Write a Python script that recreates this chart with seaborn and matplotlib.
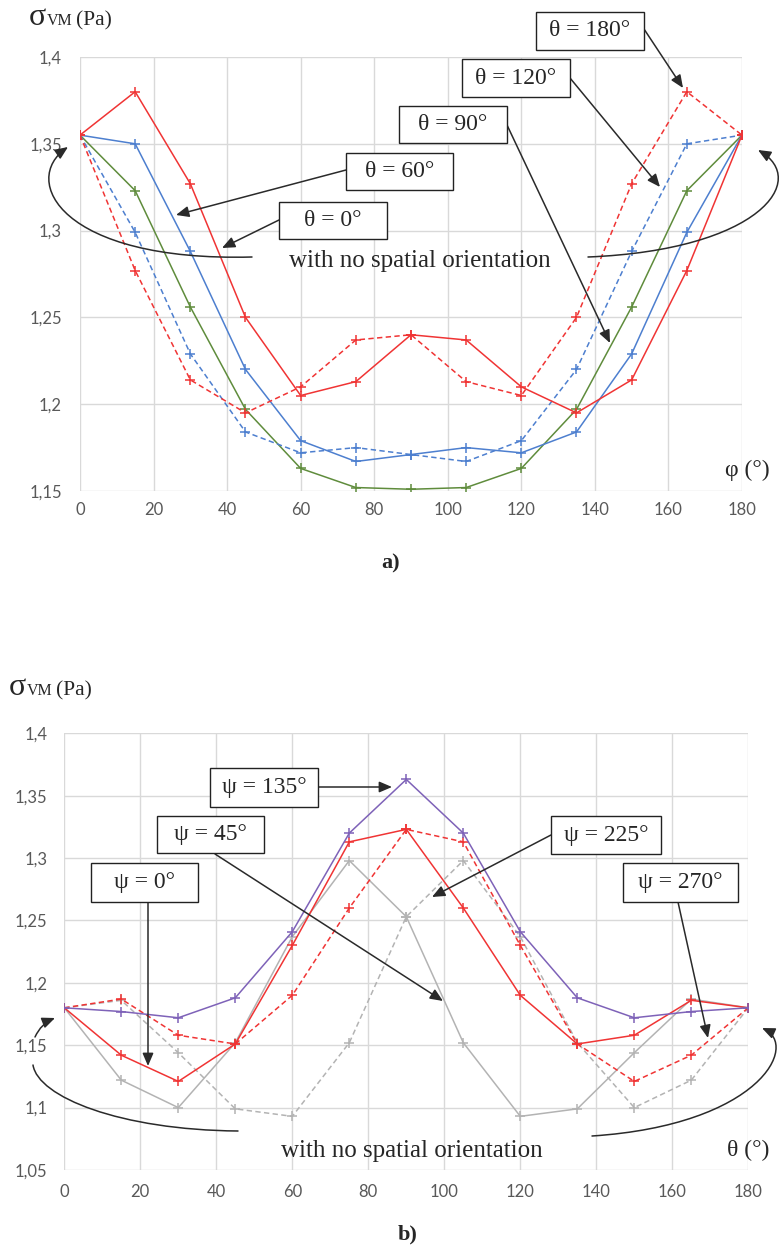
import numpy as np
import pandas as pd
import seaborn as sns
import matplotlib.pyplot as plt
from matplotlib.patches import Rectangle, FancyArrowPatch
from matplotlib.path import Path
from matplotlib.ticker import FuncFormatter

W, H = 779, 1250

# a) sigma_VM (Pa) vs phi, one curve per theta
phi = [0, 15, 30, 45, 60, 75, 90, 105, 120, 135, 150, 165, 180]
theta_0 = [1.355, 1.380, 1.327, 1.250, 1.205, 1.213, 1.240, 1.237, 1.210, 1.195, 1.214, 1.277, 1.355]
theta_180 = [1.355, 1.277, 1.214, 1.195, 1.210, 1.237, 1.240, 1.213, 1.205, 1.250, 1.327, 1.380, 1.355]
theta_60 = [1.355, 1.350, 1.288, 1.220, 1.179, 1.167, 1.171, 1.175, 1.172, 1.184, 1.229, 1.299, 1.355]
theta_120 = [1.355, 1.299, 1.229, 1.184, 1.172, 1.175, 1.171, 1.167, 1.179, 1.220, 1.288, 1.350, 1.355]
theta_90 = [1.355, 1.323, 1.256, 1.197, 1.163, 1.152, 1.151, 1.152, 1.163, 1.197, 1.256, 1.323, 1.355]

# b) sigma_VM (Pa) vs theta, one curve per psi
theta = [0, 15, 30, 45, 60, 75, 90, 105, 120, 135, 150, 165, 180]
psi_0 = [1.180, 1.142, 1.121, 1.151, 1.230, 1.313, 1.323, 1.260, 1.190, 1.151, 1.158, 1.186, 1.180]
psi_270 = [1.180, 1.187, 1.158, 1.151, 1.190, 1.260, 1.323, 1.313, 1.230, 1.151, 1.121, 1.142, 1.180]
psi_135 = [1.180, 1.177, 1.172, 1.188, 1.241, 1.320, 1.363, 1.320, 1.241, 1.188, 1.172, 1.177, 1.180]
psi_45 = [1.180, 1.122, 1.100, 1.152, 1.237, 1.298, 1.253, 1.152, 1.093, 1.099, 1.144, 1.187, 1.180]
psi_225 = [1.180, 1.186, 1.144, 1.099, 1.093, 1.152, 1.253, 1.298, 1.237, 1.152, 1.100, 1.122, 1.180]

ROUGE = "#f03434"
BLEU = "#4d7fcf"
VERT = "#5f8c3c"
MOV = "#7e62b8"
GRI = "#b3b3b3"
SOLID = "-"
DASH = (0, (3.5, 2.2))

serii_a = [(theta_90, VERT, SOLID), (theta_120, BLEU, DASH), (theta_60, BLEU, SOLID),
           (theta_180, ROUGE, DASH), (theta_0, ROUGE, SOLID)]
serii_b = [(psi_225, GRI, DASH), (psi_45, GRI, SOLID), (psi_270, ROUGE, DASH),
           (psi_0, ROUGE, SOLID), (psi_135, MOV, SOLID)]

sns.set_style("whitegrid")
plt.rcParams['font.family'] = ['Liberation Serif', 'DejaVu Serif']
SERIF = ['Liberation Serif', 'DejaVu Serif']
TICKF = ['Lato', 'DejaVu Sans']


def fx(x):
    return x / W


def fy(y):
    return 1 - y / H


fig = plt.figure(figsize=(W / 100, H / 100), dpi=100)
fig.patch.set_facecolor("white")


def pregateste_axa(ax, x, serii, ylim, yticks, pad_y, pad_x):
    for vals, c, ls in serii:
        sns.lineplot(x=x, y=vals, ax=ax, color=c, linestyle=ls, linewidth=1.1,
                     marker='+', markersize=7, markeredgewidth=1.1, markeredgecolor=c,
                     legend=False)
    ax.set_xlim(0, 180)
    ax.set_ylim(*ylim)
    ax.set_xticks(np.arange(0, 181, 20))
    ax.set_yticks(yticks)
    ax.yaxis.set_major_formatter(FuncFormatter(lambda v, p: f"{v:g}".replace('.', ',')))
    ax.grid(True, color="#d9d9d9", linewidth=1.0)
    for s in ax.spines.values():
        s.set_visible(False)
    ax.tick_params(axis='y', length=0, pad=pad_y, labelsize=12, labelcolor="#595959")
    ax.tick_params(axis='x', length=0, pad=pad_x, labelsize=12, labelcolor="#595959")
    for lab in ax.get_xticklabels() + ax.get_yticklabels():
        lab.set_family(TICKF)
    ax.set_xlabel("")
    ax.set_ylabel("")
    ax.set_facecolor("white")


ax1 = fig.add_axes([fx(80), fy(491), (742 - 80) / W, (491 - 57) / H])
pregateste_axa(ax1, phi, serii_a, (1.15, 1.4), np.arange(1.15, 1.401, 0.05), 13, 8)

ax2 = fig.add_axes([fx(64.3), fy(1170), (748.3 - 64.3) / W, (1170 - 733.3) / H])
pregateste_axa(ax2, theta, serii_b, (1.05, 1.4), np.arange(1.05, 1.401, 0.05), 12, 10)

ARROW = "#2a2a2a"


def caseta(x0, y0, x1, y1, text):
    fig.add_artist(Rectangle((fx(x0), fy(y1)), (x1 - x0) / W, (y1 - y0) / H,
                             transform=fig.transFigure, facecolor="white",
                             edgecolor="#222222", linewidth=1.0, zorder=4))
    fig.text(fx((x0 + x1) / 2), fy((y0 + y1) / 2), text, ha='center', va='center',
             fontsize=17, family=SERIF, zorder=5)


def sageata(p0, p1):
    fig.add_artist(FancyArrowPatch((fx(p0[0]), fy(p0[1])), (fx(p1[0]), fy(p1[1])),
                                   transform=fig.transFigure, arrowstyle='-|>,head_length=0.7,head_width=0.3',
                                   mutation_scale=11, color=ARROW, linewidth=1.1,
                                   shrinkA=0, shrinkB=0, zorder=3))


def curba(pts, arrow=True):
    verts = [(fx(x), fy(y)) for x, y in pts]
    codes = [Path.MOVETO, Path.CURVE4, Path.CURVE4, Path.CURVE4]
    style = '-|>,head_length=0.7,head_width=0.3' if arrow else '-'
    fig.add_artist(FancyArrowPatch(path=Path(verts, codes), transform=fig.transFigure,
                                   arrowstyle=style, mutation_scale=11, color=ARROW,
                                   linewidth=1.1, zorder=3))


# adnotari a)
caseta(536, 12, 644, 50, "θ = 180°")
caseta(462, 59, 570, 97, "θ = 120°")
caseta(399, 106, 507, 143, "θ = 90°")
caseta(346, 153, 453, 190, "θ = 60°")
caseta(279, 202, 387, 239, "θ = 0°")
sageata((644, 29), (683, 88))
sageata((570, 78), (660, 187))
sageata((507, 125), (610, 343))
sageata((346, 170), (176, 215))
sageata((279, 220), (222, 248))
curba([(252, 257), (60, 262), (20, 180), (68, 147)])
curba([(588, 257), (760, 250), (810, 180), (758, 150)])
fig.text(fx(420), fy(267), "with no spatial orientation", ha='center', va='baseline',
         fontsize=18, family=SERIF, zorder=5)
fig.text(fx(725), fy(470), "φ (°)", ha='left', va='center', fontsize=17, family=SERIF)
fig.text(fx(29), fy(25), "σ", ha='left', va='baseline', fontsize=23, family=SERIF)
fig.text(fx(47), fy(25), "VM", ha='left', va='baseline', fontsize=11.5, family=SERIF)
fig.text(fx(76), fy(25), "(Pa)", ha='left', va='baseline', fontsize=15.5, family=SERIF)
fig.text(fx(391), fy(563), "a)", ha='center', va='center', fontsize=16, fontweight='bold', family=SERIF)

# adnotari b)
caseta(210, 768, 318, 807, "ψ = 135°")
caseta(157, 816, 264, 853, "ψ = 45°")
caseta(91, 863, 198, 902, "ψ = 0°")
caseta(551, 816, 661, 854, "ψ = 225°")
caseta(623, 863, 738, 902, "ψ = 270°")
sageata((318, 787), (392, 787))
sageata((215, 854), (443, 1001))
sageata((148, 902), (148, 1066))
sageata((551, 835), (432, 897))
sageata((678, 902), (708, 1038))
curba([(238, 1131), (120, 1130), (38, 1097), (33, 1065)], arrow=False)
fig.add_artist(FancyArrowPatch((fx(35), fy(1037)), (fx(55), fy(1018)),
                               transform=fig.transFigure, connectionstyle="arc3,rad=-0.2",
                               arrowstyle='-|>,head_length=0.7,head_width=0.3',
                               mutation_scale=11, color=ARROW, linewidth=1.1,
                               shrinkA=0, shrinkB=0, zorder=3))
curba([(592, 1136), (760, 1125), (800, 1045), (762, 1028)])
fig.text(fx(412), fy(1157), "with no spatial orientation", ha='center', va='baseline',
         fontsize=18, family=SERIF, zorder=5)
fig.text(fx(727), fy(1150), "θ (°)", ha='left', va='center', fontsize=17, family=SERIF)
fig.text(fx(9), fy(695), "σ", ha='left', va='baseline', fontsize=23, family=SERIF)
fig.text(fx(27), fy(695), "VM", ha='left', va='baseline', fontsize=11.5, family=SERIF)
fig.text(fx(56), fy(695), "(Pa)", ha='left', va='baseline', fontsize=15.5, family=SERIF)
fig.text(fx(408), fy(1234), "b)", ha='center', va='center', fontsize=16, fontweight='bold', family=SERIF)

fig.savefig("out.png", dpi=100, facecolor="white")
